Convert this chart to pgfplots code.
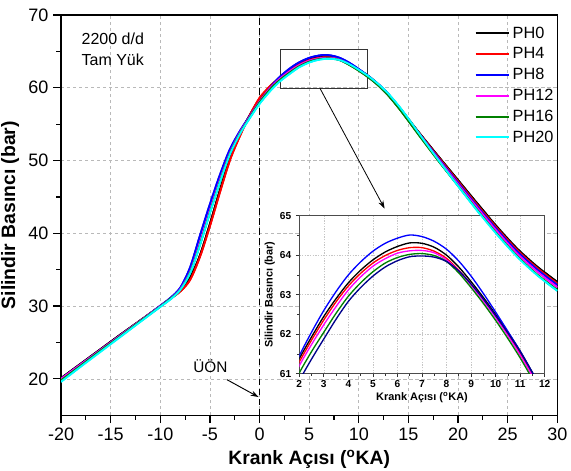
\documentclass[border=0pt]{standalone}
\usepackage{fontspec}
\setmainfont{Liberation Sans}
\usepackage{pgfplots}
\pgfplotsset{compat=1.18}
\usepackage{pgfplotstable}
\usetikzlibrary{arrows.meta}

\definecolor{phred}{RGB}{255,0,0}
\definecolor{phblue}{RGB}{0,0,255}
\definecolor{phmag}{RGB}{255,0,255}
\definecolor{phgreen}{RGB}{0,128,0}
\definecolor{phcyan}{RGB}{0,255,255}
\definecolor{phnavy}{RGB}{0,0,140}

% cylinder pressure (bar) vs crank angle (deg)
\pgfplotstableread{
x    ph0   ph4   ph8   ph12  ph16  ph20
-20  20.1  20.0  20.0  20.0  19.8  19.6
-18  22.1  22.0  22.0  22.0  21.85 21.7
-16  24.1  24.0  24.0  24.0  23.9  23.75
-14  26.1  26.0  26.0  26.0  25.9  25.8
-12  28.05 28.0  28.0  28.0  27.95 27.85
-10  30.0  30.0  30.05 30.0  29.95 29.9
-9   31.0  31.0  31.1  31.0  31.0  30.9
-8   32.1  32.0  32.5  32.3  32.2  32.2
-7   33.9  33.6  35.3  34.7  34.6  34.5
-6   37.0  36.8  39.7  38.7  38.5  38.4
-5   41.3  41.0  44.0  43.1  42.9  42.8
-4   45.9  45.6  48.0  47.3  47.1  47.0
-3   50.2  50.0  51.5  51.0  50.9  50.8
-2   53.6  53.3  54.0  53.8  53.7  53.6
-1   56.2  56.2  56.1  56.0  55.9  55.8
0    58.4  58.6  58.1  58.1  58.0  57.8
1    60.05 60.15 59.9  59.85 59.7  59.45
1.5  60.75 60.75 60.72 60.55 60.4  60.17
2    61.38 61.3  61.45 61.2  61.02 60.82
2.5  61.93 61.85 62.05 61.74 61.56 61.37
3    62.45 62.36 62.6  62.24 62.05 61.88
3.5  62.9  62.82 63.08 62.7  62.53 62.38
4    63.3  63.22 63.5  63.12 62.96 62.83
4.5  63.62 63.54 63.83 63.45 63.3  63.18
5    63.88 63.8  64.1  63.72 63.58 63.47
5.5  64.08 63.99 64.3  63.91 63.8  63.7
6    64.22 64.12 64.43 64.05 63.94 63.86
6.5  64.31 64.19 64.51 64.11 64.02 63.96
7    64.3  64.19 64.47 64.12 64.04 63.98
7.5  64.2  64.1  64.35 64.06 63.99 63.95
8    64.0  63.92 64.15 63.88 63.84 63.84
8.5  63.7  63.62 63.85 63.6  63.55 63.6
9    63.33 63.26 63.47 63.24 63.18 63.27
9.5  62.93 62.87 63.03 62.84 62.78 62.89
10   62.5  62.45 62.56 62.42 62.35 62.47
10.5 62.05 62.0  62.07 61.96 61.89 62.03
11   61.57 61.52 61.57 61.47 61.4  61.56
11.5 61.02 60.98 61.02 60.93 60.86 61.03
12   60.42 60.38 60.45 60.32 60.27 60.47
12.5 59.75 59.7  59.8  59.65 59.6  59.82
13   59.05 59.0  59.1  58.95 58.9  59.15
14   57.45 57.4  57.4  57.35 57.25 57.55
15   55.7  55.65 55.62 55.55 55.45 55.75
16   53.95 53.9  53.85 53.75 53.6  53.85
18   50.6  50.5  50.35 50.2  50.0  50.1
20   47.3  47.15 46.95 46.75 46.55 46.5
22   44.0  43.8  43.6  43.4  43.1  43.0
24   40.8  40.6  40.4  40.15 39.8  39.7
26   37.85 37.65 37.45 37.15 36.8  36.7
28   35.4  35.2  35.0  34.7  34.3  34.2
30   33.3  33.1  32.9  32.6  32.2  32.1
}\pdata

\newcommand\maincurves{%
  \addplot[black,   line width=1.4pt, smooth] table[x=x,y=ph0]  {\pdata};
  \addplot[phred,   line width=1.4pt, smooth] table[x=x,y=ph4]  {\pdata};
  \addplot[phblue,  line width=1.4pt, smooth] table[x=x,y=ph8]  {\pdata};
  \addplot[phmag,   line width=1.4pt, smooth] table[x=x,y=ph12] {\pdata};
  \addplot[phgreen, line width=1.4pt, smooth] table[x=x,y=ph16] {\pdata};
  \addplot[phcyan,  line width=1.4pt, smooth] table[x=x,y=ph20] {\pdata};
}

\begin{document}
\begin{tikzpicture}
\begin{axis}[
  name=main,
  scale only axis, width=372pt, height=300pt,
  xmin=-20, xmax=30, ymin=15, ymax=70,
  xtick={-20,-15,...,30}, ytick={20,30,...,70},
  minor x tick num=1, minor y tick num=1,
  tick align=outside, xtick pos=bottom, ytick pos=left,
  major tick length=6pt, minor tick length=3.5pt,
  every tick/.style={black, line width=0.9pt},
  grid=major,
  grid style={gray!55, line width=0.5pt, dash pattern=on 2.5pt off 2pt},
  axis line style={line width=1.1pt},
  /pgf/number format/assume math mode=true,
  tick label style={font=\fontsize{13.5}{15}\selectfont},
  xlabel={Krank Açısı (\textsuperscript{o}KA)},
  ylabel={Silindir Basıncı (bar)},
  label style={font=\fontsize{14.5}{17}\selectfont\bfseries},
  legend entries={PH0,PH4,PH8,PH12,PH16,PH20},
  legend style={draw=none, fill=none, at={(rel axis cs:0.833,0.978)},
    anchor=north west, font=\fontsize{12.2}{14}\selectfont,
    row sep=1.6pt, inner sep=0pt},
  legend cell align=left,
  legend image code/.code={\draw[#1, line width=1.5pt] (0pt,0pt) -- (25pt,0pt);},
]
\maincurves
\draw[line width=1.2pt, dash pattern=on 5pt off 2.5pt] (axis cs:0,15) -- (axis cs:0,70);
\node[anchor=north west, align=left, font=\fontsize{12}{15.5}\selectfont]
  at (axis cs:-18.4,68.2) {2200 d/d\\Tam Yük};
\node[font=\fontsize{11.5}{13}\selectfont] at (axis cs:-4.95,21.7) {ÜÖN};
\draw[-{Stealth[length=6pt,width=4pt]}, line width=0.7pt] (axis cs:-3.3,19.9) -- (axis cs:-0.1,17.5);
\draw[line width=0.7pt, black!80] (axis cs:2.1,59.9) rectangle (axis cs:10.9,65.3);
\draw[-{Stealth[length=6pt,width=4pt]}, line width=0.6pt] (axis cs:6.1,59.9) -- (axis cs:12.6,43.4);
\coordinate (insetsw) at (axis cs:4.0,20.7);
\end{axis}

\begin{axis}[
  at={(insetsw)}, anchor=south west,
  scale only axis, width=184pt, height=118.5pt,
  xmin=2, xmax=12, ymin=61, ymax=65,
  xtick={2,...,12}, ytick={61,...,65},
  minor x tick num=1, minor y tick num=1,
  tick align=outside, xtick pos=bottom, ytick pos=left,
  major tick length=2.5pt, minor tick length=1.5pt,
  every tick/.style={black!80, line width=0.5pt},
  grid=major,
  grid style={gray!45, line width=0.4pt, dash pattern=on 1pt off 1pt},
  axis background/.style={fill=white},
  axis line style={black!70, line width=0.6pt},
  /pgf/number format/assume math mode=true,
  tick label style={font=\fontsize{7.6}{8}\selectfont\bfseries},
  xticklabel style={yshift=1pt},
  xlabel={Krank Açısı (\textsuperscript{o}KA)},
  ylabel={Silindir Basıncı (bar)},
  label style={font=\fontsize{8.2}{9}\selectfont\bfseries},
  xlabel style={yshift=3pt}, ylabel style={yshift=-3pt},
]
\addplot[black,   line width=1pt, smooth] table[x=x,y=ph0]  {\pdata};
\addplot[phred,   line width=1pt, smooth] table[x=x,y=ph4]  {\pdata};
\addplot[phblue,  line width=1pt, smooth] table[x=x,y=ph8]  {\pdata};
\addplot[phmag,   line width=1pt, smooth] table[x=x,y=ph12] {\pdata};
\addplot[phgreen, line width=1pt, smooth] table[x=x,y=ph16] {\pdata};
\addplot[phnavy,  line width=1pt, smooth] table[x=x,y=ph20] {\pdata};
\end{axis}

% main curves again, over the inset
\begin{axis}[
  scale only axis, width=372pt, height=300pt,
  xmin=-20, xmax=30, ymin=15, ymax=70, hide axis,
]
\maincurves
\end{axis}
\pgfresetboundingbox
\path[use as bounding box] ([xshift=-45.75pt,yshift=-41.25pt]main.south west)
  rectangle ([xshift=10.25pt,yshift=11.25pt]main.north east);
\end{tikzpicture}
\end{document}
